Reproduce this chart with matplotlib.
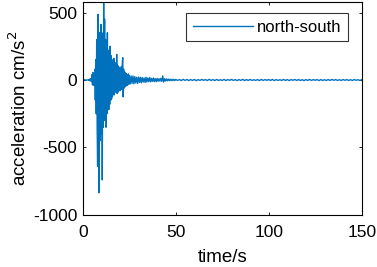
import matplotlib
matplotlib.use("Agg")
import matplotlib.pyplot as plt
import numpy as np

plt.rcParams['font.family'] = ['Liberation Sans', 'DejaVu Sans']
plt.rcParams['axes.unicode_minus'] = False

# strong-motion segment, 0.25 s steps from 3.0 s to 24.75 s
t_strong_start = 3.0
acc_strong = [
    2, -3, 4, -5, 8, -6, 10, -12,                 # 3.00-4.75
    40, -35, 55, -40, 30, -25, 80, -150,          # 5.00-6.75
    150, -250, 300, -350, -640, 487, -200, -835,  # 7.00-8.75
    350, -450, 300, 412, -400, 350, -740, 300,    # 9.00-10.75
    -350, 580, -300, 450, -280, 300, -350, 250,   # 11.00-12.75
    -250, 350, -200, 220, -220, 200, -180, 250,   # 13.00-14.75
    -150, 180, -140, 150, -120, 140, -100, 160,   # 15.00-16.75
    -110, 130, -90, 120, -80, 190, -100, 110,     # 17.00-18.75
    -90, 100, -70, 90, -80, 85, -60, 100,         # 19.00-20.75
    -70, 120, 165, -125, 80, -60, 60, -50,        # 21.00-22.75
    50, -45, 45, -40, 40, -35, 45, -30,           # 23.00-24.75
]
# coda, 0.5 s steps from 25.0 s to 49.5 s
t_coda_start = 25.0
acc_coda = [
    35, -30, 30, -25, 30, -28, 25, -22, 20, -25,
    22, -18, 20, -20, 18, -15, 15, -18, 20, -15,
    15, -12, 18, -14, 12, -10, 15, -12, 10, -12,
    12, -10, 10, -8, 12, -10, 30, -15, 10, -8,
    8, -6, 7, -5, 6, -5, 5, -4, 5, -4,
]
# tail, 1 s steps from 50 s to 150 s
t_tail_start = 50.0
acc_tail = [
    4, -3, 3, -4, 5, -3, 4, -4, 3, -3,
    4, -5, 3, -3, 4, -2, 3, -4, 5, -3,
    3, -4, 4, -3, 2, -3, 4, -4, 3, -2,
    4, -3, 3, -4, 3, -3, 5, -4, 3, -3,
    4, -3, 2, -3, 3, -4, 4, -3, 3, -2,
    3, -3, 4, -4, 3, -3, 2, -3, 4, -3,
    3, -4, 3, -2, 4, -3, 3, -3, 2, -4,
    3, -3, 4, -3, 3, -2, 3, -4, 3, -3,
    2, -3, 3, -3, 4, -2, 3, -3, 2, -3,
    3, -2, 3, -3, 2, -3, 3, -2, 2, -3, 2,
]

t = np.concatenate([
    [0.0, 1.0, 2.0],
    t_strong_start + 0.25 * np.arange(len(acc_strong)),
    t_coda_start + 0.5 * np.arange(len(acc_coda)),
    t_tail_start + 1.0 * np.arange(len(acc_tail)),
])
acc = np.concatenate([[0, 1, -1], acc_strong, acc_coda, acc_tail])

fig = plt.figure(figsize=(3.77, 2.67), dpi=100)
ax = fig.add_axes([0.2195, 0.1948, 0.9594 - 0.2195, 0.9936 - 0.1948])
ax.plot(t, acc, color='#0072BD', lw=1.0, label='north-south')
ax.set_xlim(0, 150)
ax.set_ylim(-1000, 580)
ax.set_xticks([0, 50, 100, 150])
ax.set_yticks([-1000, -500, 0, 500])
ax.tick_params(direction='in', length=2.5, width=0.6, labelsize=12.5,
               top=True, right=True)
ax.tick_params(axis='x', pad=7.5)
ax.tick_params(axis='y', pad=4)
for s in ax.spines.values():
    s.set_linewidth(0.8)
ax.set_xlabel('time/s', fontsize=13.5, labelpad=6)
ax.set_ylabel('acceleration cm/s$^2$', fontsize=13.5, labelpad=2)
leg = ax.legend(loc='upper right', fontsize=12, frameon=True, fancybox=False,
                edgecolor='black', borderpad=0.4, handlelength=3.6,
                handletextpad=0.25, borderaxespad=0,
                bbox_to_anchor=(0.951, 0.947))
leg.get_frame().set_linewidth(0.8)
fig.savefig('out.png', dpi=100)
